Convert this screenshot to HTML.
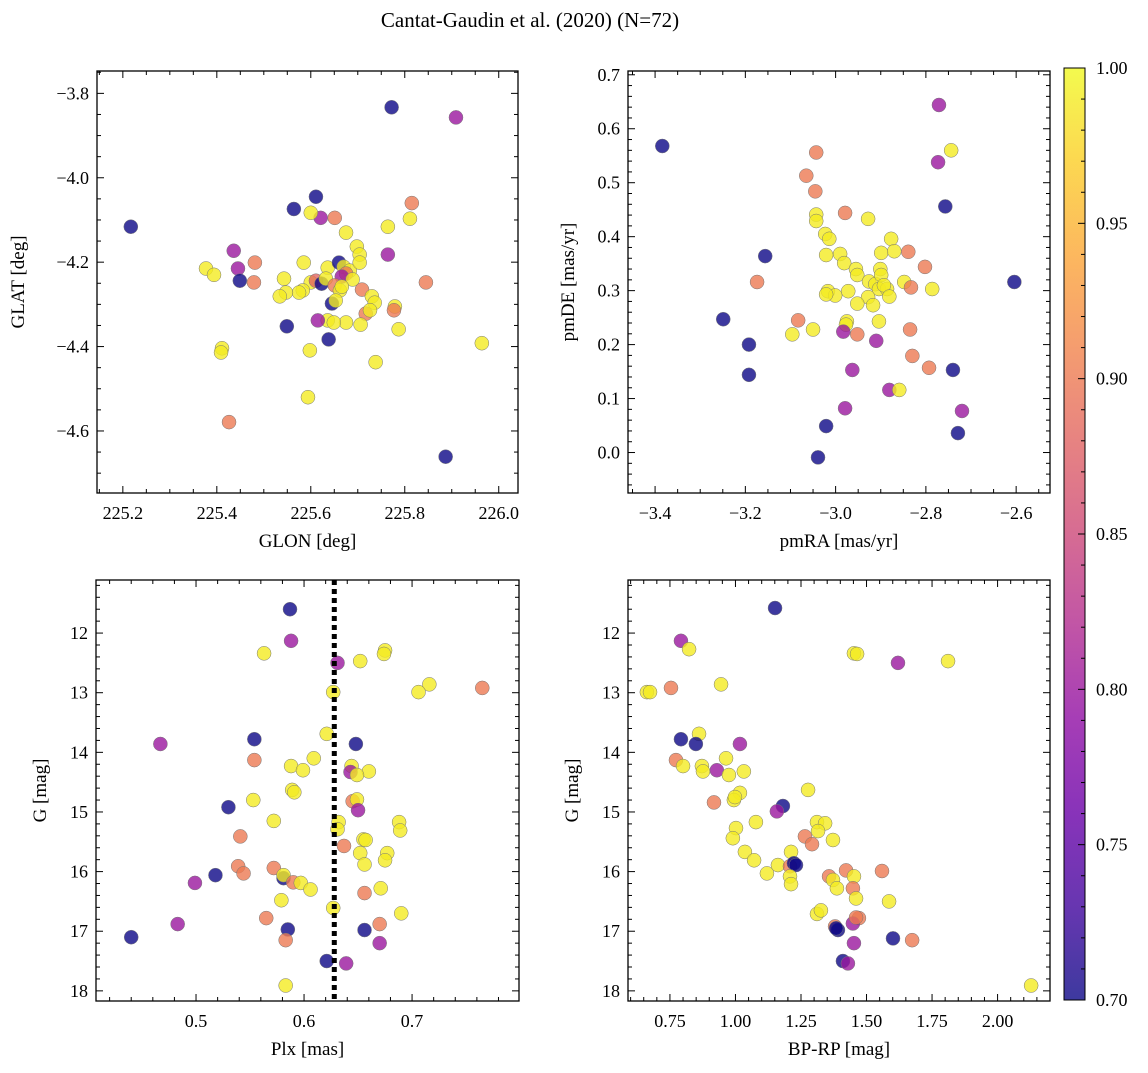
<!DOCTYPE html>
<html><head><meta charset="utf-8">
<style>
body{margin:0;background:#fff;}
svg text{font-family:"Liberation Serif","DejaVu Serif",serif;fill:#000;}
</style></head>
<body>
<svg id="fig" width="1148" height="1068" viewBox="0 0 1148 1068" xmlns="http://www.w3.org/2000/svg">
<rect width="1148" height="1068" fill="#fff"/>
<text x="530" y="27" font-size="21" text-anchor="middle">Cantat-Gaudin et al. (2020) (N=72)</text>
<defs>
<linearGradient id="cbgrad" x1="0" y1="1" x2="0" y2="0">
<stop offset="0" stop-color="#0d0887"/><stop offset="0.1" stop-color="#41049d"/><stop offset="0.2" stop-color="#6a00a8"/><stop offset="0.3" stop-color="#8f0da4"/><stop offset="0.4" stop-color="#b12a90"/><stop offset="0.5" stop-color="#cc4778"/><stop offset="0.6" stop-color="#e16462"/><stop offset="0.7" stop-color="#f2844b"/><stop offset="0.8" stop-color="#fca636"/><stop offset="0.9" stop-color="#fcce25"/><stop offset="1" stop-color="#f0f921"/>
</linearGradient>
</defs>
</svg>
<script>
// Panel 1: GLON / GLAT
const p1x=[225.217,225.772,225.909,225.611,225.564,225.621,225.651,225.815,225.811,225.764,225.675,225.600,225.436,225.698,225.704,225.764,225.481,225.445,225.377,225.394,225.585,225.636,225.660,225.670,225.683,225.675,225.704,225.666,225.689,225.449,225.479,225.543,225.600,225.611,225.623,225.632,225.651,225.845,225.583,225.575,225.547,225.534,225.662,225.666,225.709,225.730,225.736,225.779,225.777,225.717,225.726,225.645,225.653,225.675,225.636,225.649,225.615,225.549,225.706,225.787,225.638,225.598,225.411,225.409,225.738,225.964,225.594,225.426,225.887];
const p1y=[-4.116,-3.833,-3.857,-4.045,-4.074,-4.095,-4.095,-4.060,-4.097,-4.116,-4.130,-4.083,-4.173,-4.163,-4.182,-4.182,-4.201,-4.215,-4.215,-4.230,-4.201,-4.213,-4.201,-4.211,-4.220,-4.227,-4.201,-4.234,-4.241,-4.244,-4.248,-4.239,-4.248,-4.244,-4.251,-4.239,-4.255,-4.248,-4.267,-4.272,-4.272,-4.281,-4.267,-4.258,-4.265,-4.281,-4.296,-4.305,-4.314,-4.322,-4.314,-4.298,-4.291,-4.343,-4.338,-4.343,-4.338,-4.352,-4.348,-4.359,-4.383,-4.409,-4.404,-4.414,-4.437,-4.392,-4.520,-4.579,-4.661];
const p1c=[0.70,0.70,0.80,0.70,0.70,0.80,0.90,0.90,0.99,0.99,0.99,0.99,0.80,0.99,0.99,0.80,0.90,0.80,0.99,0.99,0.99,0.99,0.70,0.99,0.99,0.90,0.99,0.80,0.99,0.70,0.90,0.99,0.99,0.88,0.70,0.99,0.90,0.90,0.99,0.99,0.99,0.99,0.99,0.99,0.90,0.99,0.99,0.99,0.90,0.90,0.99,0.70,0.99,0.99,0.99,0.99,0.80,0.70,0.99,0.99,0.70,0.99,0.99,0.99,0.99,0.99,0.99,0.90,0.70];
// Panel 2: pmRA / pmDE
const p2x=[-3.384,-2.771,-2.773,-2.744,-3.043,-3.065,-3.045,-2.757,-3.043,-3.043,-2.979,-2.928,-3.023,-3.014,-2.877,-3.156,-3.021,-2.990,-2.899,-2.870,-2.839,-2.981,-2.955,-2.952,-2.901,-2.802,-2.926,-2.912,-2.899,-2.904,-2.886,-2.893,-2.848,-2.786,-3.174,-2.604,-3.017,-3.001,-2.972,-3.021,-2.928,-2.881,-2.952,-2.917,-2.904,-2.833,-3.249,-3.083,-2.975,-2.977,-3.050,-3.096,-3.192,-2.952,-2.835,-2.983,-2.910,-2.830,-2.793,-2.963,-3.192,-2.881,-2.859,-2.740,-2.720,-2.979,-3.021,-2.729,-3.039];
const p2y=[0.568,0.644,0.538,0.560,0.556,0.513,0.484,0.456,0.441,0.429,0.444,0.433,0.405,0.396,0.396,0.364,0.366,0.368,0.370,0.373,0.372,0.351,0.340,0.329,0.340,0.344,0.317,0.312,0.329,0.303,0.303,0.310,0.316,0.303,0.316,0.316,0.299,0.291,0.299,0.293,0.288,0.289,0.276,0.273,0.243,0.306,0.247,0.245,0.243,0.237,0.228,0.219,0.200,0.219,0.228,0.224,0.207,0.179,0.157,0.153,0.144,0.116,0.116,0.153,0.077,0.082,0.049,0.036,-0.009];
const p2c=[0.70,0.80,0.80,0.99,0.90,0.90,0.90,0.70,0.99,0.99,0.90,0.99,0.99,0.99,0.99,0.70,0.99,0.99,0.99,0.99,0.90,0.99,0.99,0.99,0.99,0.90,0.99,0.99,0.99,0.99,0.99,0.99,0.99,0.99,0.90,0.70,0.99,0.99,0.99,0.99,0.99,0.99,0.99,0.99,0.99,0.90,0.70,0.90,0.99,0.99,0.99,0.99,0.70,0.90,0.90,0.80,0.80,0.90,0.90,0.80,0.70,0.80,0.99,0.70,0.80,0.80,0.70,0.70,0.70];
// Panel 3: Plx / G
const p3x=[0.587,0.588,0.563,0.631,0.652,0.675,0.674,0.716,0.706,0.765,0.627,0.467,0.621,0.554,0.648,0.609,0.588,0.599,0.644,0.643,0.660,0.649,0.589,0.591,0.554,0.553,0.530,0.645,0.649,0.650,0.688,0.689,0.632,0.631,0.572,0.541,0.637,0.655,0.657,0.652,0.677,0.675,0.656,0.539,0.544,0.518,0.572,0.581,0.581,0.590,0.597,0.606,0.499,0.656,0.671,0.579,0.690,0.565,0.483,0.627,0.670,0.656,0.585,0.583,0.670,0.440,0.621,0.639,0.583];
const p3y=[11.60,12.13,12.34,12.50,12.47,12.29,12.35,12.86,12.99,12.92,12.99,13.86,13.69,13.78,13.86,14.10,14.23,14.30,14.23,14.33,14.32,14.38,14.63,14.67,14.13,14.80,14.92,14.82,14.79,14.97,15.17,15.31,15.17,15.29,15.15,15.41,15.57,15.46,15.47,15.69,15.69,15.81,15.88,15.91,16.03,16.06,15.94,16.11,16.06,16.18,16.19,16.30,16.19,16.36,16.28,16.48,16.70,16.78,16.88,16.61,16.88,16.98,16.97,17.15,17.20,17.10,17.50,17.54,17.91];
const p3c=[0.70,0.80,0.99,0.80,0.99,0.99,0.99,0.99,0.99,0.90,0.99,0.80,0.99,0.70,0.70,0.99,0.99,0.99,0.99,0.80,0.99,0.99,0.99,0.99,0.90,0.99,0.70,0.90,0.99,0.80,0.99,0.99,0.99,0.99,0.99,0.90,0.90,0.99,0.99,0.99,0.99,0.99,0.99,0.90,0.90,0.70,0.90,0.70,0.99,0.90,0.99,0.99,0.80,0.90,0.99,0.99,0.99,0.90,0.80,0.99,0.90,0.70,0.70,0.90,0.80,0.70,0.70,0.80,0.99];
const plxLine=0.628;
// Panel 4: BP-RP / G
const p4x=[0.792,0.823,0.662,0.674,0.754,0.945,1.452,1.464,1.151,1.620,1.811,0.792,0.861,0.849,1.017,0.773,0.800,0.872,0.876,0.929,0.964,0.975,1.032,1.017,0.994,0.998,0.918,1.181,1.158,1.277,1.311,1.342,1.315,1.002,0.990,1.078,1.265,1.292,1.372,1.036,1.071,1.212,1.120,1.162,1.208,1.223,1.231,1.208,1.212,1.357,1.372,1.387,1.422,1.452,1.448,1.559,1.460,1.471,1.311,1.326,1.380,1.391,1.384,1.448,1.460,1.586,1.601,1.674,1.452,1.410,1.429,2.128];
const p4y=[12.13,12.27,12.99,12.99,12.92,12.86,12.34,12.35,11.58,12.50,12.47,13.78,13.69,13.86,13.86,14.13,14.23,14.23,14.32,14.30,14.10,14.38,14.32,14.68,14.80,14.75,14.84,14.90,14.99,14.63,15.17,15.19,15.32,15.27,15.44,15.17,15.41,15.54,15.47,15.67,15.81,15.67,16.03,15.89,15.91,15.86,15.89,16.08,16.21,16.08,16.14,16.28,15.98,16.08,16.28,15.99,16.45,16.78,16.71,16.65,16.92,16.98,16.95,16.87,16.77,16.50,17.12,17.15,17.20,17.50,17.54,17.91];
const p4c=[0.80,0.99,0.99,0.99,0.90,0.99,0.99,0.99,0.70,0.80,0.99,0.70,0.99,0.70,0.80,0.90,0.99,0.99,0.99,0.80,0.99,0.99,0.99,0.99,0.99,0.99,0.90,0.70,0.80,0.99,0.99,0.99,0.99,0.99,0.99,0.99,0.90,0.90,0.99,0.99,0.99,0.99,0.99,0.99,0.90,0.70,0.70,0.99,0.99,0.90,0.99,0.99,0.90,0.99,0.90,0.90,0.99,0.90,0.99,0.99,0.90,0.70,0.70,0.80,0.90,0.99,0.70,0.90,0.80,0.70,0.80,0.99];
const cbTicks=["0.70","0.75","0.80","0.85","0.90","0.95","1.00"];

const NS="http://www.w3.org/2000/svg";
const svg=document.getElementById('fig');
function mk(tag,attrs,parent){const e=document.createElementNS(NS,tag);for(const k in attrs)e.setAttribute(k,attrs[k]);(parent||svg).appendChild(e);return e;}
const stops=[[0,13,8,135],[0.1,65,4,157],[0.2,106,0,168],[0.3,143,13,164],[0.4,177,42,144],[0.5,204,71,120],[0.6,225,100,98],[0.7,242,132,75],[0.8,252,166,54],[0.9,252,206,37],[1,240,249,33]];
function plasma(v){let t=Math.max(0,Math.min(1,(v-0.7)/0.3));for(let i=1;i<stops.length;i++){if(t<=stops[i][0]){const a=stops[i-1],b=stops[i],f=(t-a[0])/(b[0]-a[0]);return `rgb(${Math.round(a[1]+f*(b[1]-a[1]))},${Math.round(a[2]+f*(b[2]-a[2]))},${Math.round(a[3]+f*(b[3]-a[3]))})`;}}return 'rgb(240,249,33)';}

function panel(o){
  const g=mk('g',{});
  
  
  const sx=v=>o.x0+(v-o.xmin)/(o.xmax-o.xmin)*(o.x1-o.x0);
  const sy=v=>o.inv? o.y0+(v-o.ymin)/(o.ymax-o.ymin)*(o.y1-o.y0) : o.y1-(v-o.ymin)/(o.ymax-o.ymin)*(o.y1-o.y0);
  for(let i=0;i<o.xs.length;i++){
    const c=mk('circle',{cx:sx(o.xs[i]),cy:sy(o.ys[i]),r:7,fill:plasma(o.cs[i]),'fill-opacity':0.8,stroke:'#777','stroke-width':0.5},g);
    
    
  }
  if(o.vline!==undefined){
    const l=mk('line',{x1:sx(o.vline),x2:sx(o.vline),y1:o.y0,y2:o.y1,stroke:'#000','stroke-width':5,'stroke-dasharray':'5,4'},g);
    
    
  }
  const eps=1e-9;
  for(let v=Math.ceil(o.xmin/o.xmn-eps)*o.xmn;v<=o.xmax+eps;v+=o.xmn){
    const X=sx(v),maj=Math.abs(v/o.xmj-Math.round(v/o.xmj))<1e-6,L=maj?7:4;
    mk('line',{x1:X,x2:X,y1:o.y1,y2:o.y1-L,stroke:'#000','stroke-width':1},g);
    mk('line',{x1:X,x2:X,y1:o.y0,y2:o.y0+L,stroke:'#000','stroke-width':1},g);
    if(maj){const t=mk('text',{x:X,y:o.y1+26,'font-size':18,'text-anchor':'middle'},g);t.textContent=(v<0?'\u2212':'')+Math.abs(v).toFixed(o.xd);
      }
  }
  for(let v=Math.ceil(o.ymin/o.ymn-eps)*o.ymn;v<=o.ymax+eps;v+=o.ymn){
    const Y=sy(v),maj=Math.abs(v/o.ymj-Math.round(v/o.ymj))<1e-6,L=maj?7:4;
    mk('line',{x1:o.x0,x2:o.x0+L,y1:Y,y2:Y,stroke:'#000','stroke-width':1},g);
    mk('line',{x1:o.x1,x2:o.x1-L,y1:Y,y2:Y,stroke:'#000','stroke-width':1},g);
    if(maj){const t=mk('text',{x:o.x0-8,y:Y+6,'font-size':18,'text-anchor':'end'},g);let s=Math.abs(v).toFixed(o.yd);if(Math.abs(v)<1e-9)s=(0).toFixed(o.yd);t.textContent=(v<-1e-9?'\u2212':'')+s;
      }
  }
  const fr=mk('rect',{x:o.x0,y:o.y0,width:o.x1-o.x0,height:o.y1-o.y0,fill:'none',stroke:'#000','stroke-width':1.3},g);
  
  const xl=mk('text',{x:(o.x0+o.x1)/2,y:o.y1+54,'font-size':19,'text-anchor':'middle'},g);xl.textContent=o.xlab;
  
  const yx=o.ylx,yy=(o.y0+o.y1)/2;
  const yl=mk('text',{x:yx,y:yy,'font-size':19,'text-anchor':'middle',transform:`rotate(-90 ${yx} ${yy})`},g);yl.textContent=o.ylab;
  
}
panel({name:'panel-glon-glat',x0:97,x1:518,y0:71,y1:493,xmin:225.145,xmax:226.041,ymin:-4.747,ymax:-3.747,xmj:0.2,xmn:0.05,ymj:0.2,ymn:0.05,xd:1,yd:1,xs:p1x,ys:p1y,cs:p1c,xlab:'GLON [deg]',ylab:'GLAT [deg]',ylx:24});
panel({name:'panel-pm',x0:628,x1:1050,y0:71,y1:493,xmin:-3.460,xmax:-2.525,ymin:-0.075,ymax:0.707,xmj:0.2,xmn:0.05,ymj:0.1,ymn:0.02,xd:1,yd:1,xs:p2x,ys:p2y,cs:p2c,xlab:'pmRA [mas/yr]',ylab:'pmDE [mas/yr]',ylx:574});
panel({name:'panel-plx-g',x0:96,x1:519,y0:580,y1:1001,xmin:0.4074,xmax:0.799,ymin:11.11,ymax:18.17,inv:true,xmj:0.1,xmn:0.02,ymj:1,ymn:0.2,xd:1,yd:0,xs:p3x,ys:p3y,cs:p3c,vline:plxLine,xlab:'Plx [mas]',ylab:'G [mag]',ylx:46});
panel({name:'panel-cmd',x0:628,x1:1050,y0:580,y1:1001,xmin:0.590,xmax:2.200,ymin:11.11,ymax:18.17,inv:true,xmj:0.25,xmn:0.05,ymj:1,ymn:0.2,xd:2,yd:0,xs:p4x,ys:p4y,cs:p4c,xlab:'BP-RP [mag]',ylab:'G [mag]',ylx:578});

const cb=mk('g',{});


const cy0=68,cy1=1000,cx0=1064,cx1=1085;
mk('rect',{x:cx0,y:cy0,width:cx1-cx0,height:cy1-cy0,fill:'url(#cbgrad)','fill-opacity':0.8},cb);
mk('rect',{x:cx0,y:cy0,width:cx1-cx0,height:cy1-cy0,fill:'none',stroke:'#000','stroke-width':1},cb);
for(let k=0;k<=30;k++){const v=0.70+k*0.01,Y=cy1-(v-0.70)/0.30*(cy1-cy0);const maj=k%5===0;
  mk('line',{x1:cx1,x2:cx1-(maj?7:4),y1:Y,y2:Y,stroke:'#000','stroke-width':1},cb);}
cbTicks.forEach(s=>{const v=parseFloat(s),Y=cy1-(v-0.70)/0.30*(cy1-cy0);
  const t=mk('text',{x:cx1+11,y:Y+6,'font-size':18},cb);t.textContent=s;
  });
</script>
</body></html>
